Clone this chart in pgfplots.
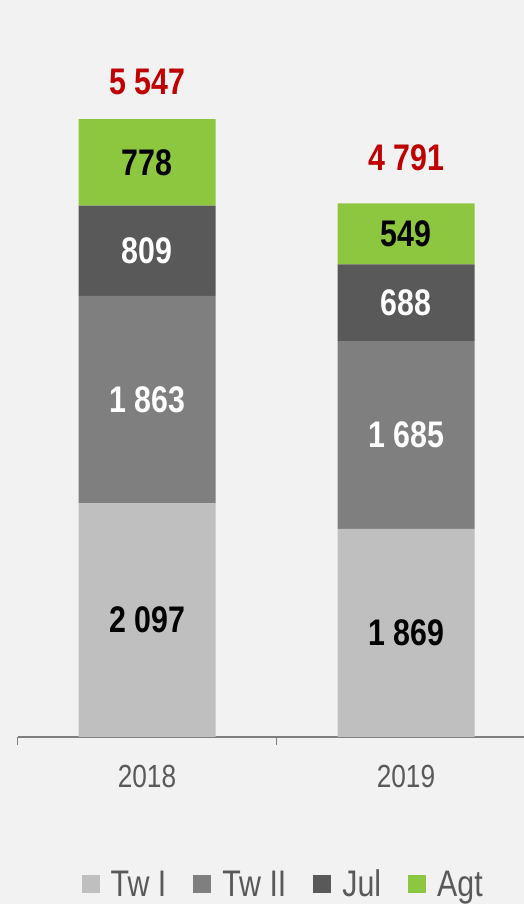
\documentclass[border=0pt]{standalone}
\usepackage{fontspec}
\setmainfont{Liberation Sans}[FakeStretch=0.82]
\usepackage{pgfplots}
\pgfplotsset{compat=1.18}
\definecolor{bgc}{HTML}{F2F2F2}
\definecolor{twone}{HTML}{BFBFBF}
\definecolor{twtwo}{HTML}{7F7F7F}
\definecolor{julc}{HTML}{595959}
\definecolor{agtc}{HTML}{8DC63F}
\definecolor{redc}{HTML}{C00000}
\definecolor{txtc}{HTML}{595959}
\begin{document}
\begin{tikzpicture}
\fill[bgc] (0pt,0pt) rectangle (524pt,904pt);
\begin{axis}[
  at={(17.5pt,167pt)}, anchor=south west,
  scale only axis, width=518pt, height=668.4pt,
  xmin=-0.5, xmax=1.5, ymin=0, ymax=6000,
  clip=false,
  ybar stacked, bar width=137pt,
  axis x line*=bottom, axis y line=none,
  x axis line style={draw=twtwo, line width=1.6pt},
  xtick={0,1}, xticklabels={2018,2019},
  major tick length=0pt,
  xticklabel style={anchor=center, yshift=-39pt, font=\fontsize{32}{36}\selectfont, text=txtc},
  extra x ticks={-0.5,0.5,1.5}, extra x tick labels={},
  extra x tick style={major tick length=8pt, tick align=outside, tick style={draw=twtwo, line width=1.6pt}},
  /pgf/number format/assume math mode=true,
  /pgf/number format/1000 sep={\ },
  nodes near coords={\pgfmathprintnumber{\pgfplotspointmeta}},
  every node near coord/.append style={font=\bfseries\fontsize{37}{40}\selectfont, anchor=center},
  legend columns=4,
  legend image code/.code={\fill[#1] (0pt,-9pt) rectangle (18pt,9pt);},
  legend style={at={(0.512,-0.22)}, anchor=center, draw=none, fill=none,
    font=\fontsize{37}{40}\selectfont, text=txtc,
    /tikz/every odd column/.append style={column sep=10pt},
    /tikz/every even column/.append style={column sep=26pt},
    nodes={inner sep=1pt}},
]
\addplot[fill=twone, draw=none, every node near coord/.append style={text=black}] coordinates {(0,2097) (1,1869)};
\addplot[fill=twtwo, draw=none, every node near coord/.append style={text=white}] coordinates {(0,1863) (1,1685)};
\addplot[fill=julc, draw=none, every node near coord/.append style={text=white}] coordinates {(0,809) (1,688)};
\addplot[fill=agtc, draw=none, every node near coord/.append style={text=black}] coordinates {(0,778) (1,549)};
\addplot[fill=none, draw=none, point meta=explicit,
  every node near coord/.append style={text=redc}]
  coordinates {(0,664) [5547] (1,826) [4791]};
\legend{Tw I, Tw II, Jul, Agt}
\end{axis}
\pgfresetboundingbox
\path (0pt,0pt) rectangle (524pt,904pt);
\end{tikzpicture}
\end{document}
